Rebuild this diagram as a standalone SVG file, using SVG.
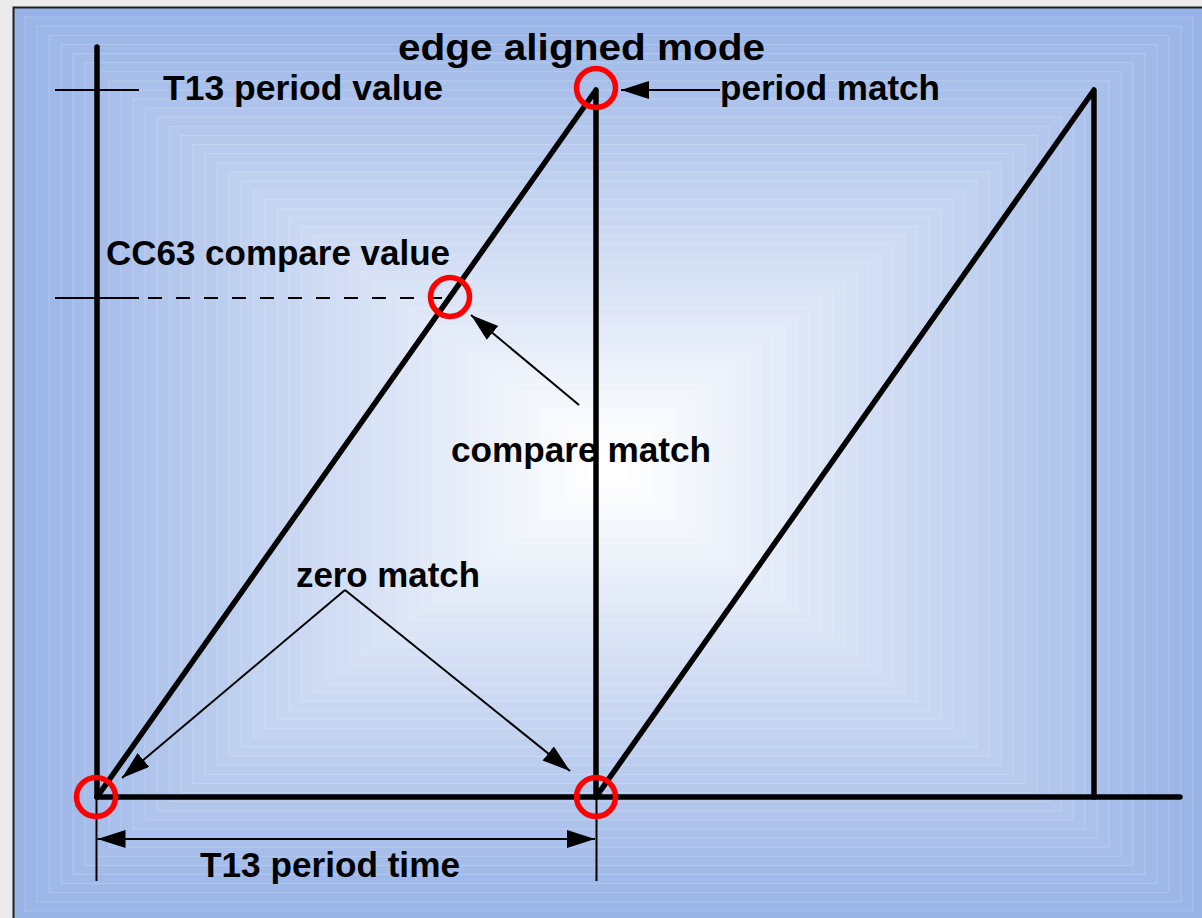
<svg xmlns="http://www.w3.org/2000/svg" width="1202" height="918" viewBox="0 0 1202 918">
<style>
.bg rect{stroke:#ffffff;stroke-opacity:.2;stroke-width:1}
.t{font-family:"Liberation Sans",Arial,sans-serif;font-weight:bold;font-size:34.5px;fill:#000}
.title{font-size:36px}
.thick{fill:none;stroke:#000;stroke-width:5.5;stroke-linecap:round;stroke-linejoin:round}
.thin{fill:none;stroke:#000;stroke-width:2}
.ring{fill:none;stroke:#ff0000;stroke-width:5.5}
</style>
<defs>
<marker id="ah" markerUnits="userSpaceOnUse" markerWidth="30" markerHeight="20" refX="28" refY="9" orient="auto-start-reverse">
<path d="M0,0 L28,9 L0,18 z" fill="#000"/>
</marker>
</defs>
<rect x="0" y="0" width="1202" height="918" fill="#ebebeb"/>
<g id="background" class="bg">
<rect x="13" y="8" width="1192" height="912" fill="rgb(152,179,230)"/>
<rect x="25" y="17.1" width="1168" height="893.8" fill="rgb(154,181,231)"/>
<rect x="37" y="26.2" width="1144" height="875.6" fill="rgb(156,182,231)"/>
<rect x="49" y="35.3" width="1120" height="857.4" fill="rgb(158,184,232)"/>
<rect x="61" y="44.4" width="1096" height="839.2" fill="rgb(161,185,232)"/>
<rect x="73" y="53.5" width="1072" height="821" fill="rgb(163,187,233)"/>
<rect x="85" y="62.6" width="1048" height="802.8" fill="rgb(165,189,233)"/>
<rect x="97" y="71.7" width="1024" height="784.6" fill="rgb(167,190,234)"/>
<rect x="109" y="80.8" width="1000" height="766.4" fill="rgb(169,192,234)"/>
<rect x="121" y="89.9" width="976" height="748.2" fill="rgb(171,193,235)"/>
<rect x="133" y="99" width="952" height="730" fill="rgb(173,195,235)"/>
<rect x="145" y="108.1" width="928" height="711.8" fill="rgb(176,196,236)"/>
<rect x="157" y="117.2" width="904" height="693.6" fill="rgb(178,198,236)"/>
<rect x="169" y="126.3" width="880" height="675.4" fill="rgb(180,200,237)"/>
<rect x="181" y="135.4" width="856" height="657.2" fill="rgb(182,201,237)"/>
<rect x="193" y="144.5" width="832" height="639" fill="rgb(184,203,238)"/>
<rect x="205" y="153.6" width="808" height="620.8" fill="rgb(186,204,238)"/>
<rect x="217" y="162.7" width="784" height="602.6" fill="rgb(188,206,239)"/>
<rect x="229" y="171.8" width="760" height="584.4" fill="rgb(191,208,239)"/>
<rect x="241" y="180.9" width="736" height="566.2" fill="rgb(193,209,240)"/>
<rect x="253" y="190" width="712" height="548" fill="rgb(195,211,240)"/>
<rect x="265" y="199.1" width="688" height="529.8" fill="rgb(197,212,241)"/>
<rect x="277" y="208.2" width="664" height="511.6" fill="rgb(199,214,241)"/>
<rect x="289" y="217.3" width="640" height="493.4" fill="rgb(201,215,242)"/>
<rect x="301" y="226.4" width="616" height="475.2" fill="rgb(204,217,243)"/>
<rect x="313" y="235.5" width="592" height="457" fill="rgb(206,219,243)"/>
<rect x="325" y="244.6" width="568" height="438.8" fill="rgb(208,220,244)"/>
<rect x="337" y="253.7" width="544" height="420.6" fill="rgb(210,222,244)"/>
<rect x="349" y="262.8" width="520" height="402.4" fill="rgb(212,223,245)"/>
<rect x="361" y="271.9" width="496" height="384.2" fill="rgb(214,225,245)"/>
<rect x="373" y="281" width="472" height="366" fill="rgb(216,227,246)"/>
<rect x="385" y="290.1" width="448" height="347.8" fill="rgb(219,228,246)"/>
<rect x="397" y="299.2" width="424" height="329.6" fill="rgb(221,230,247)"/>
<rect x="409" y="308.3" width="400" height="311.4" fill="rgb(223,231,247)"/>
<rect x="421" y="317.4" width="376" height="293.2" fill="rgb(225,233,248)"/>
<rect x="433" y="326.5" width="352" height="275" fill="rgb(227,234,248)"/>
<rect x="445" y="335.6" width="328" height="256.8" fill="rgb(229,236,249)"/>
<rect x="457" y="344.7" width="304" height="238.6" fill="rgb(231,238,249)"/>
<rect x="469" y="353.8" width="280" height="220.4" fill="rgb(234,239,250)"/>
<rect x="481" y="362.9" width="256" height="202.2" fill="rgb(236,241,250)"/>
<rect x="493" y="372" width="232" height="184" fill="rgb(238,242,251)"/>
<rect x="505" y="381.1" width="208" height="165.8" fill="rgb(240,244,251)"/>
<rect x="517" y="390.2" width="184" height="147.6" fill="rgb(242,246,252)"/>
<rect x="529" y="399.3" width="160" height="129.4" fill="rgb(244,247,252)"/>
<rect x="541" y="408.4" width="136" height="111.2" fill="rgb(246,249,253)"/>
<rect x="553" y="417.5" width="112" height="93" fill="rgb(249,250,253)"/>
<rect x="565" y="426.6" width="88" height="74.8" fill="rgb(251,252,254)"/>
<rect x="577" y="435.7" width="64" height="56.6" fill="rgb(253,253,255)"/>
<rect x="589" y="444.8" width="40" height="38.4" fill="rgb(255,255,255)"/>
</g>
<rect id="frame" x="13.5" y="7.5" width="1200" height="920" fill="none" stroke="#1e1e1e" stroke-width="2"/>
<g id="axes">
<line class="thick" x1="97" y1="47" x2="97" y2="797"/>
<line class="thick" x1="97" y1="797" x2="1180" y2="797"/>
</g>
<g id="sawtooth">
<polyline class="thick" points="97,797 596,90 596,797 1094,90 1094,797"/>
</g>
<g id="levels">
<line class="thin" x1="55" y1="90" x2="139" y2="90"/>
<line class="thin" x1="55" y1="298" x2="139" y2="298"/>
<line class="thin" x1="148" y1="298" x2="450" y2="298" stroke-dasharray="14 14"/>
<line class="thin" x1="96.5" y1="797" x2="96.5" y2="881"/>
<line class="thin" x1="596.5" y1="797" x2="596.5" y2="881"/>
</g>
<g id="connectors">
<line class="thin" x1="720" y1="90" x2="621" y2="90" marker-end="url(#ah)"/>
<line class="thin" x1="579" y1="405" x2="471" y2="315" marker-end="url(#ah)"/>
<line class="thin" x1="345" y1="590" x2="122" y2="778" marker-end="url(#ah)"/>
<line class="thin" x1="345" y1="590" x2="570" y2="771" marker-end="url(#ah)"/>
<line class="thin" x1="97.5" y1="839" x2="595" y2="839" marker-start="url(#ah)" marker-end="url(#ah)"/>
</g>
<g id="match-points">
<circle class="ring" cx="596" cy="88" r="19.5"/>
<circle class="ring" cx="450" cy="297" r="19.5"/>
<circle class="ring" cx="96" cy="797" r="19.5"/>
<circle class="ring" cx="596" cy="797" r="19.5"/>
</g>
<g id="labels">
<text class="t title" x="398" y="60" textLength="367" lengthAdjust="spacingAndGlyphs">edge aligned mode</text>
<text class="t" x="163" y="100" textLength="280" lengthAdjust="spacingAndGlyphs">T13 period value</text>
<text class="t" x="720" y="100" textLength="220" lengthAdjust="spacingAndGlyphs">period match</text>
<text class="t" x="106" y="265" textLength="344" lengthAdjust="spacingAndGlyphs">CC63 compare value</text>
<text class="t" x="451" y="462" textLength="260" lengthAdjust="spacingAndGlyphs">compare match</text>
<text class="t" x="296" y="587" textLength="184" lengthAdjust="spacingAndGlyphs">zero match</text>
<text class="t" x="200" y="877" textLength="260" lengthAdjust="spacingAndGlyphs">T13 period time</text>
</g>
</svg>
